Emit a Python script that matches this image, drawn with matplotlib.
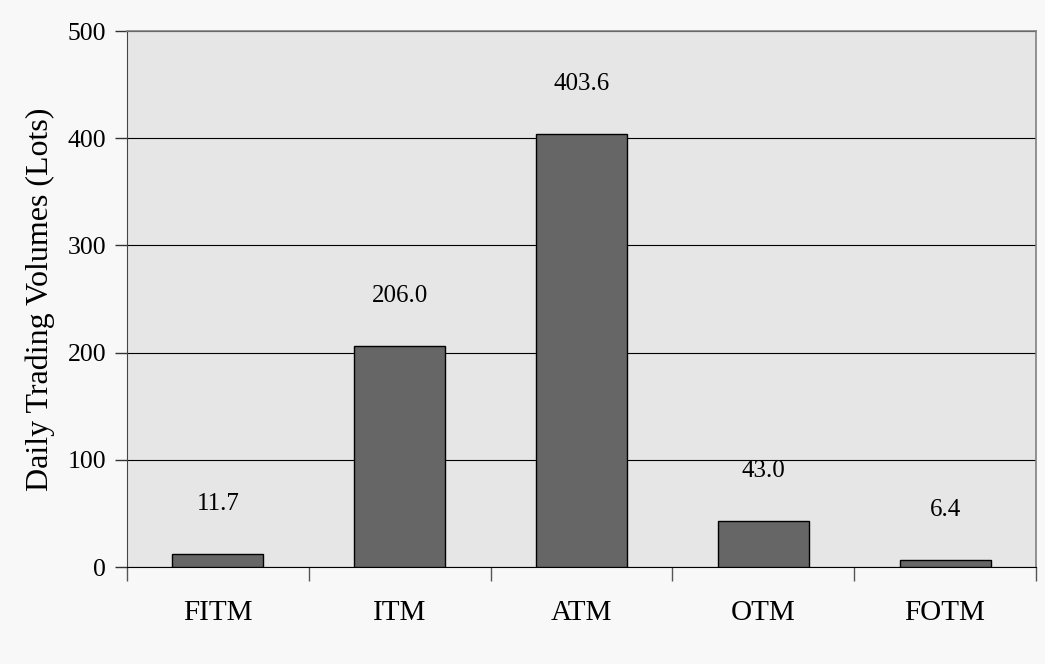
import numpy as np
import matplotlib
matplotlib.use('Agg')
import matplotlib.pyplot as plt

categories = ['FITM', 'ITM', 'ATM', 'OTM', 'FOTM']
volumes = [11.7, 206.0, 403.6, 43.0, 6.4]
yticks = [0, 100, 200, 300, 400, 500]

plt.rcParams['font.family'] = ['Liberation Serif', 'DejaVu Serif']

fig = plt.figure(figsize=(10.45, 6.64), dpi=100, facecolor='#f8f8f8')
ax = fig.add_axes([127/1045, 1 - 567/664, (1036-127)/1045, (567-31)/664])
ax.set_facecolor('#e6e6e6')

x = np.arange(len(categories))
ax.bar(x, volumes, width=0.5, color='#666666', edgecolor='black', linewidth=1, zorder=3)

for xi, v in zip(x, volumes):
    ax.text(xi, v + 47, '%.1f' % v, ha='center', va='center', fontsize=18, zorder=4)

ax.set_xlim(-0.5, len(categories) - 0.5)
ax.set_ylim(0, 500)
ax.set_yticks(yticks)
ax.set_yticklabels([str(t) for t in yticks], fontsize=18.5)
ax.yaxis.grid(True, color='black', linewidth=0.8, zorder=1)

# category labels between boundary ticks
ax.set_xticks(np.arange(len(categories) + 1) - 0.5)
ax.set_xticklabels([])
ax.set_xticks(x, minor=True)
ax.set_xticklabels(categories, minor=True, fontsize=21)
ax.tick_params(axis='x', which='minor', length=0, pad=24)
ax.tick_params(axis='x', which='major', length=10, width=1, color='#555555')
ax.tick_params(axis='y', length=9, width=1, color='#333333', pad=6)

ax.set_ylabel('Daily Trading Volumes (Lots)', fontsize=23, labelpad=9)

for side in ['top', 'right']:
    ax.spines[side].set_color('#808080')
    ax.spines[side].set_linewidth(1.2)
ax.spines['left'].set_color('#444444')
ax.spines['bottom'].set_color('black')

fig.savefig('out.png', dpi=100, facecolor=fig.get_facecolor())
